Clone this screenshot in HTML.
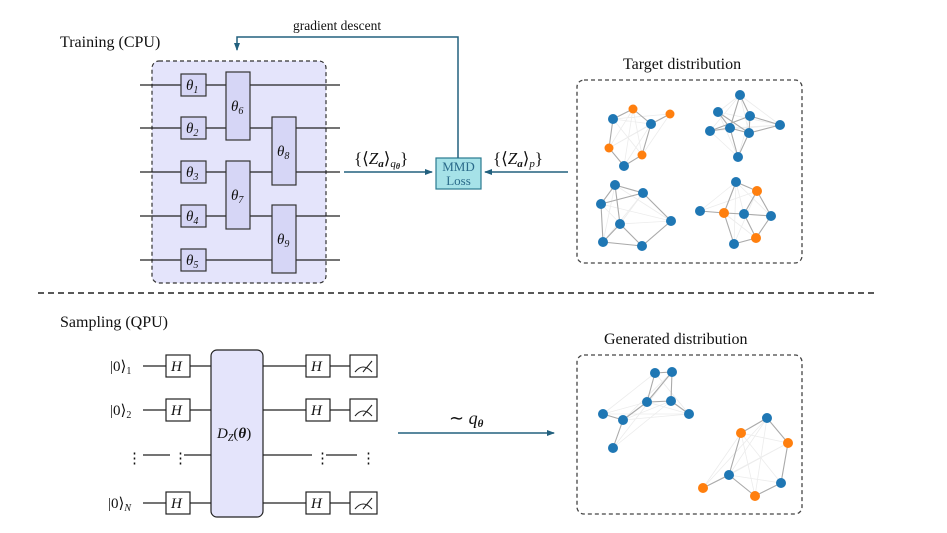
<!DOCTYPE html>
<html><head><meta charset="utf-8"><style>
html,body{margin:0;padding:0;background:#fff;}
svg{display:block;}
text{font-family:"Liberation Serif",serif;fill:#111;}
.it{font-style:italic;}
</style></head><body>
<svg width="947" height="533" viewBox="0 0 947 533" xmlns="http://www.w3.org/2000/svg">
<defs>
<marker id="ar" markerWidth="8" markerHeight="8" refX="7" refY="4" orient="auto" markerUnits="userSpaceOnUse">
<path d="M0,1 L8,4 L0,7 Z" fill="#22607e"/></marker>
</defs>
<text x="60" y="47" font-size="16">Training (CPU)</text>
<rect x="152" y="61" width="174" height="222" rx="7" fill="#e4e4fb" stroke="#333" stroke-dasharray="4,3" stroke-width="1.2"/>
<g stroke="#222" stroke-width="1.3">
<line x1="140" y1="85" x2="340" y2="85"/><line x1="140" y1="128" x2="340" y2="128"/>
<line x1="140" y1="172" x2="340" y2="172"/><line x1="140" y1="216" x2="340" y2="216"/>
<line x1="140" y1="260" x2="340" y2="260"/>
</g>
<g fill="#d6d6f6" stroke="#333" stroke-width="1.2">
<rect x="181" y="74" width="25" height="22"/><rect x="181" y="117" width="25" height="22"/>
<rect x="181" y="161" width="25" height="22"/><rect x="181" y="205" width="25" height="22"/>
<rect x="181" y="249" width="25" height="22"/>
<rect x="226" y="72" width="24" height="68"/><rect x="226" y="161" width="24" height="68"/>
<rect x="272" y="117" width="24" height="68"/><rect x="272" y="205" width="24" height="68"/>
</g>
<g font-size="15">
<text x="186" y="90" class="it">θ<tspan font-size="10" dy="3">1</tspan></text>
<text x="186" y="133" class="it">θ<tspan font-size="10" dy="3">2</tspan></text>
<text x="186" y="177" class="it">θ<tspan font-size="10" dy="3">3</tspan></text>
<text x="186" y="221" class="it">θ<tspan font-size="10" dy="3">4</tspan></text>
<text x="186" y="265" class="it">θ<tspan font-size="10" dy="3">5</tspan></text>
<text x="231" y="111" class="it">θ<tspan font-size="10" dy="3">6</tspan></text>
<text x="231" y="200" class="it">θ<tspan font-size="10" dy="3">7</tspan></text>
<text x="277" y="156" class="it">θ<tspan font-size="10" dy="3">8</tspan></text>
<text x="277" y="244" class="it">θ<tspan font-size="10" dy="3">9</tspan></text>
</g>
<line x1="344" y1="172" x2="432" y2="172" stroke="#22607e" stroke-width="1.5" marker-end="url(#ar)"/>
<line x1="568" y1="172" x2="485" y2="172" stroke="#22607e" stroke-width="1.5" marker-end="url(#ar)"/>
<text x="354" y="164" font-size="17">{⟨<tspan class="it">Z</tspan><tspan font-size="11" dy="3" font-weight="bold" class="it">a</tspan><tspan dy="-3">⟩</tspan><tspan font-size="11" dy="3" class="it">q</tspan><tspan font-size="8" dy="2" font-weight="bold" class="it">θ</tspan><tspan dy="-5">}</tspan></text>
<text x="493" y="164" font-size="17">{⟨<tspan class="it">Z</tspan><tspan font-size="11" dy="3" font-weight="bold" class="it">a</tspan><tspan dy="-3">⟩</tspan><tspan font-size="11" dy="3" class="it">p</tspan><tspan dy="-3">}</tspan></text>
<rect x="436" y="158" width="45" height="31" fill="#a6e2e8" stroke="#2a7a90" stroke-width="1.2"/>
<text x="458.5" y="171" font-size="13" text-anchor="middle" style="fill:#2a6a8a">MMD</text>
<text x="458.5" y="185" font-size="13" text-anchor="middle" style="fill:#2a6a8a">Loss</text>
<polyline points="458,158 458,37 237,37 237,50" fill="none" stroke="#22607e" stroke-width="1.5" marker-end="url(#ar)"/>
<text x="293" y="30" font-size="13.5">gradient descent</text>
<text x="623" y="69" font-size="16">Target distribution</text>
<rect x="577" y="80" width="225" height="183" rx="7" fill="none" stroke="#444" stroke-dasharray="4,3" stroke-width="1.3"/>
<g stroke="#ececec" stroke-width="0.8">
<path d="M613,119L651,124M613,119L642,155M613,119L670,114M633,109L609,148M633,109L642,155M633,109L624,166M651,124L609,148M651,124L624,166M670,114L642,155M670,114L609,148M740,95L718,112M740,95L710,131M740,95L780,125M740,95L749,133M718,112L780,125M718,112L738,157M710,131L780,125M750,116L738,157M730,128L780,125M710,131L738,157M615,185L671,221M615,185L603,242M643,193L603,242M601,204L671,221M601,204L642,246M643,193L620,224M620,224L671,221M736,182L700,211M736,182L771,216M736,182L734,244M757,191L700,211M757,191L734,244M700,211L744,214M724,213L771,216M724,213L756,238M744,214L756,238M744,214L736,182"/>
<path d="M655,373L603,414M655,373L689,414M672,372L623,420M672,372L613,448M647,402L603,414M647,402L689,414M671,401L623,420M671,401L613,448M623,420L689,414M603,414L689,414M767,418L729,475M767,418L755,496M741,433L788,443M741,433L755,496M741,433L781,483M788,443L729,475M788,443L703,488M729,475L781,483M703,488L741,433M767,418L703,488"/>
</g>
<g stroke="#aaa" stroke-width="1.1" fill="none">
<path d="M613,119L633,109M651,124L670,114M651,124L633,109M651,124L642,155L624,166L609,148L613,119"/>
<path d="M740,95L730,128M740,95L750,116M718,112L730,128L749,133L780,125L750,116L749,133M710,131L730,128L738,157L749,133M710,131L750,116M718,112L749,133"/>
<path d="M615,185L643,193L671,221L642,246L603,242L601,204L615,185M601,204L643,193M615,185L620,224L603,242M620,224L642,246"/>
<path d="M736,182L757,191L744,214L771,216L756,238L734,244L724,213L736,182M700,211L724,213L744,214M757,191L771,216M744,214L756,238M724,213L734,244"/>
<path d="M655,373L672,372L671,401L647,402L655,373M647,402L623,420L603,414M623,420L613,448M671,401L689,414M672,372L647,402"/>
<path d="M767,418L741,433L729,475L703,488M729,475L755,496L781,483L788,443L767,418"/>
</g>
<g fill="#1f77b4">
<circle cx="613" cy="119" r="5"/><circle cx="651" cy="124" r="5"/><circle cx="624" cy="166" r="5"/>
<circle cx="740" cy="95" r="5"/><circle cx="718" cy="112" r="5"/><circle cx="750" cy="116" r="5"/><circle cx="710" cy="131" r="5"/><circle cx="730" cy="128" r="5"/><circle cx="749" cy="133" r="5"/><circle cx="780" cy="125" r="5"/><circle cx="738" cy="157" r="5"/>
<circle cx="615" cy="185" r="5"/><circle cx="643" cy="193" r="5"/><circle cx="601" cy="204" r="5"/><circle cx="620" cy="224" r="5"/><circle cx="671" cy="221" r="5"/><circle cx="603" cy="242" r="5"/><circle cx="642" cy="246" r="5"/>
<circle cx="736" cy="182" r="5"/><circle cx="700" cy="211" r="5"/><circle cx="744" cy="214" r="5"/><circle cx="771" cy="216" r="5"/><circle cx="734" cy="244" r="5"/>
<circle cx="655" cy="373" r="5"/><circle cx="672" cy="372" r="5"/><circle cx="647" cy="402" r="5"/><circle cx="671" cy="401" r="5"/><circle cx="689" cy="414" r="5"/><circle cx="603" cy="414" r="5"/><circle cx="623" cy="420" r="5"/><circle cx="613" cy="448" r="5"/>
<circle cx="767" cy="418" r="5"/><circle cx="729" cy="475" r="5"/><circle cx="781" cy="483" r="5"/>
</g>
<g fill="#ff7f0e">
<circle cx="633" cy="109" r="4.5"/><circle cx="670" cy="114" r="4.5"/><circle cx="609" cy="148" r="4.5"/><circle cx="642" cy="155" r="4.5"/>
<circle cx="757" cy="191" r="5"/><circle cx="724" cy="213" r="5"/><circle cx="756" cy="238" r="5"/>
<circle cx="741" cy="433" r="5"/><circle cx="788" cy="443" r="5"/><circle cx="703" cy="488" r="5"/><circle cx="755" cy="496" r="5"/>
</g>
<line x1="38" y1="293" x2="876" y2="293" stroke="#222" stroke-width="1.5" stroke-dasharray="6,4"/>
<text x="60" y="327" font-size="16">Sampling (QPU)</text>
<g stroke="#222" stroke-width="1.3">
<line x1="143" y1="366" x2="350" y2="366"/><line x1="143" y1="410" x2="350" y2="410"/>
<line x1="143" y1="503" x2="350" y2="503"/>
<line x1="143" y1="455" x2="170" y2="455"/><line x1="184" y1="455" x2="211" y2="455"/>
<line x1="263" y1="455" x2="312" y2="455"/><line x1="326" y1="455" x2="357" y2="455"/>
</g>
<g font-size="15">
<text x="110" y="371">|0⟩<tspan font-size="10" dy="3">1</tspan></text>
<text x="110" y="415">|0⟩<tspan font-size="10" dy="3">2</tspan></text>
<text x="108" y="508">|0⟩<tspan font-size="10" dy="3" class="it">N</tspan></text>
<text x="127" y="463">⋮</text><text x="173" y="463">⋮</text><text x="315" y="463">⋮</text><text x="361" y="463">⋮</text>
</g>
<g fill="#fff" stroke="#222" stroke-width="1.2">
<rect x="166" y="355" width="24" height="22"/><rect x="166" y="399" width="24" height="22"/><rect x="166" y="492" width="24" height="22"/>
<rect x="306" y="355" width="24" height="22"/><rect x="306" y="399" width="24" height="22"/><rect x="306" y="492" width="24" height="22"/>
<rect x="350" y="355" width="27" height="22"/><rect x="350" y="399" width="27" height="22"/><rect x="350" y="492" width="27" height="22"/>
</g>
<g fill="none" stroke="#222" stroke-width="1.1">
<path d="M355,372 Q363,362 372,372 M363,372 L372,361"/>
<path d="M355,416 Q363,406 372,416 M363,416 L372,405"/>
<path d="M355,509 Q363,499 372,509 M363,509 L372,498"/>
</g>
<g font-size="15">
<text x="171" y="371" class="it">H</text><text x="171" y="415" class="it">H</text><text x="171" y="508" class="it">H</text>
<text x="311" y="371" class="it">H</text><text x="311" y="415" class="it">H</text><text x="311" y="508" class="it">H</text>
</g>
<rect x="211" y="350" width="52" height="167" rx="6" fill="#e4e4fb" stroke="#222" stroke-width="1.2"/>
<text x="217" y="438" font-size="15"><tspan class="it">D</tspan><tspan font-size="10" dy="3" class="it">Z</tspan><tspan dy="-3">(</tspan><tspan font-weight="bold" class="it">θ</tspan>)</text>
<line x1="398" y1="433" x2="554" y2="433" stroke="#22607e" stroke-width="1.5" marker-end="url(#ar)"/>
<text x="449" y="424" font-size="18">∼ <tspan class="it">q</tspan><tspan font-size="11" dy="3" font-weight="bold" class="it">θ</tspan></text>
<text x="604" y="344" font-size="16">Generated distribution</text>
<rect x="577" y="355" width="225" height="159" rx="7" fill="none" stroke="#444" stroke-dasharray="4,3" stroke-width="1.3"/>
</svg>
</body></html>
